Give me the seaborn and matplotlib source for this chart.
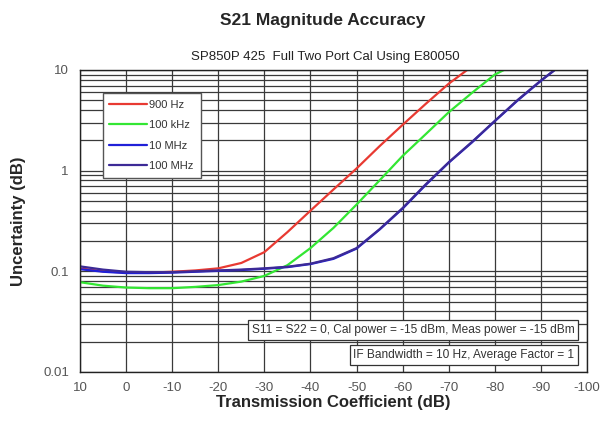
import numpy as np
import pandas as pd
import matplotlib
matplotlib.use("Agg")
import matplotlib.pyplot as plt
import matplotlib.ticker as mticker
import seaborn as sns

# ---- data ----
x_900hz = [10, 5, 0, -5, -10, -15, -20, -25, -30, -35, -40, -45, -50, -55, -60, -65, -70, -74]
y_900hz = [0.107, 0.100, 0.097, 0.097, 0.099, 0.102, 0.107, 0.121, 0.155, 0.245, 0.40, 0.65, 1.05, 1.75, 2.85, 4.6, 7.3, 10.0]

x_100khz = [10, 5, 0, -5, -10, -15, -20, -25, -30, -35, -40, -45, -50, -55, -60, -65, -70, -75, -80, -82]
y_100khz = [0.078, 0.072, 0.069, 0.068, 0.068, 0.070, 0.073, 0.079, 0.090, 0.115, 0.17, 0.27, 0.46, 0.80, 1.4, 2.3, 3.8, 5.9, 9.0, 10.0]

x_10mhz = [10, 5, 0, -5, -10, -15, -20, -25, -30, -35, -40, -45, -50, -55, -60, -65, -70, -75, -80, -85, -90, -93]
y_10mhz = [0.105, 0.099, 0.096, 0.096, 0.097, 0.099, 0.101, 0.103, 0.106, 0.110, 0.118, 0.133, 0.168, 0.26, 0.42, 0.72, 1.2, 1.9, 3.1, 5.0, 7.8, 10.0]

x_100mhz = [10, 5, 0, -5, -10, -15, -20, -25, -30, -35, -40, -45, -50, -55, -60, -65, -70, -75, -80, -85, -90, -93]
y_100mhz = [0.112, 0.104, 0.099, 0.098, 0.098, 0.100, 0.102, 0.104, 0.107, 0.111, 0.119, 0.135, 0.170, 0.262, 0.425, 0.73, 1.21, 1.92, 3.12, 5.05, 7.85, 10.0]

series_labels = ["900 Hz", "100 kHz", "10 MHz", "100 MHz"]
x_ticks = [10, 0, -10, -20, -30, -40, -50, -60, -70, -80, -90, -100]
y_ticks = [0.01, 0.1, 1, 10]
y_tick_labels = ["0.01", "0.1", "1", "10"]

title = "S21 Magnitude Accuracy"
subtitle = "SP850P 425  Full Two Port Cal Using E80050"
note1 = "S11 = S22 = 0, Cal power = -15 dBm, Meas power = -15 dBm"
note2 = "IF Bandwidth = 10 Hz, Average Factor = 1"

frames = []
for lab, xs, ys in zip(series_labels,
                       [x_900hz, x_100khz, x_10mhz, x_100mhz],
                       [y_900hz, y_100khz, y_10mhz, y_100mhz]):
    frames.append(pd.DataFrame({"x": xs, "y": ys, "series": lab}))
df = pd.concat(frames, ignore_index=True)

sns.set_style("white")
plt.rcParams["font.family"] = ["Liberation Sans", "DejaVu Sans"]

fig = plt.figure(figsize=(6.06, 4.23), dpi=100)
ax = fig.add_axes([0.132, 0.1206, 0.8366, 0.714])

palette = {"900 Hz": "#e83a32", "100 kHz": "#33e633", "10 MHz": "#2020d8", "100 MHz": "#3c2a96"}
sns.lineplot(data=df, x="x", y="y", hue="series", palette=palette,
             hue_order=series_labels, sort=False, linewidth=1.6, ax=ax, legend=True)

ax.set_yscale("log")
ax.set_ylim(0.01, 10)
ax.set_xlim(10, -100)
ax.set_xticks(x_ticks)
ax.set_xticklabels([str(v) for v in x_ticks])
ax.set_yticks(y_ticks)
ax.set_yticklabels(y_tick_labels)
ax.yaxis.set_minor_locator(mticker.LogLocator(base=10, subs=np.arange(2, 10)))
ax.yaxis.set_minor_formatter(mticker.NullFormatter())

ax.grid(True, which="major", axis="both", color="#3a3a3a", linewidth=0.9)
ax.grid(True, which="minor", axis="y", color="#3a3a3a", linewidth=0.9)
ax.set_axisbelow(True)
for s in ax.spines.values():
    s.set_color("#222222")
    s.set_linewidth(1.0)

ax.tick_params(axis="both", which="both", direction="in", colors="#333333",
               labelcolor="#555555", labelsize=9.5, length=4)
ax.tick_params(axis="x", pad=7)
ax.tick_params(axis="y", pad=8)

ax.set_xlabel("Transmission Coefficient (dB)", fontsize=12, fontweight="bold", labelpad=1)
ax.set_ylabel("Uncertainty (dB)", fontsize=12, fontweight="bold", labelpad=12)

fig.text(0.533, 0.952, title, ha="center", va="center", fontsize=12.5, fontweight="bold")
fig.text(0.537, 0.865, subtitle, ha="center", va="center", fontsize=9.5, color="#222222")

leg = ax.legend(loc="upper left", bbox_to_anchor=(0.045, 0.924), borderaxespad=0,
                frameon=True, fancybox=False, fontsize=8, labelspacing=0.95,
                handlelength=3.4, handletextpad=0.2, borderpad=0.6, title=None)
leg.get_frame().set_edgecolor("#555555")
leg.get_frame().set_facecolor("white")
leg.get_frame().set_alpha(1)
for t in leg.get_texts():
    t.set_color("#333333")

bbox_kw = dict(boxstyle="square,pad=0.3", facecolor="white", edgecolor="#333333", linewidth=0.9)
ax.text(0.975, 0.139, note1, transform=ax.transAxes, ha="right", va="center",
        fontsize=8.6, color="#333333", bbox=bbox_kw)
ax.text(0.975, 0.056, note2, transform=ax.transAxes, ha="right", va="center",
        fontsize=8.6, color="#333333", bbox=bbox_kw)

fig.savefig("out.png", dpi=100, facecolor="white")
